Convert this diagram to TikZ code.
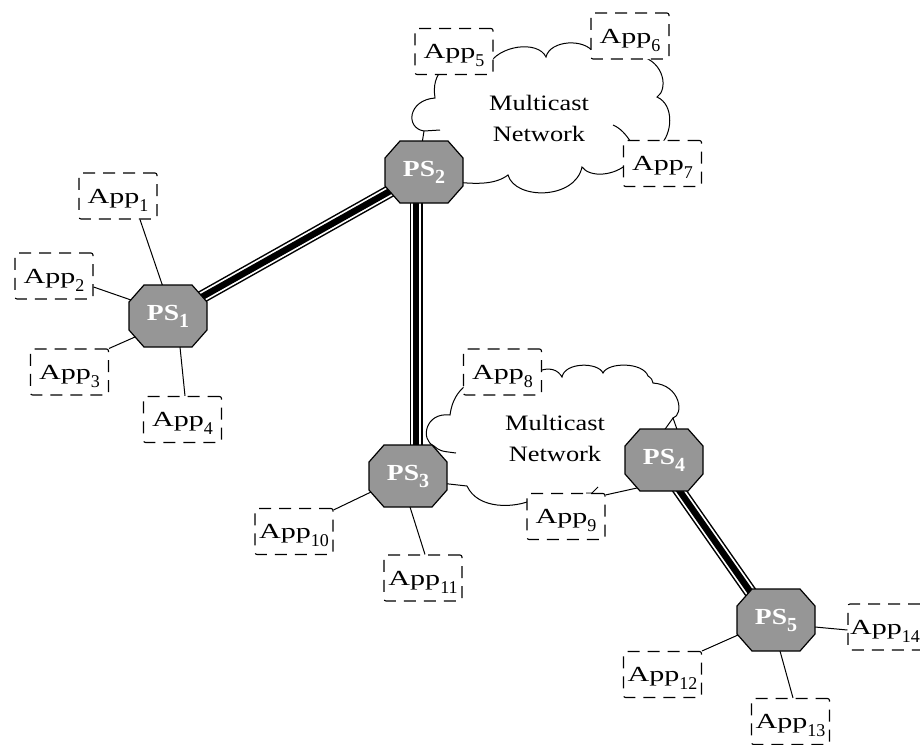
\documentclass[tikz,border=0pt]{standalone}
\usepackage{fontspec}
\setmainfont{Liberation Serif}
\newfontfamily\appfont[FakeStretch=1.4]{Liberation Serif}
\newfontfamily\cloudfont[FakeStretch=1.2]{Liberation Serif}
\newfontfamily\psfont[FakeStretch=1.2]{Liberation Serif}
\pgfdeclarelayer{bg}
\pgfsetlayers{bg,main}
\definecolor{psgray}{RGB}{150,150,150}
\newcommand\appsub[1]{\raisebox{-8pt}{\rmfamily\fontsize{18}{18}\selectfont #1}}
\newcommand\pssub[1]{\raisebox{-7pt}{\rmfamily\bfseries\fontsize{20}{20}\selectfont #1}}
\newcommand\octpt[2]{([xshift=#1pt,yshift=#2pt]path picture bounding box.center)}
\tikzset{
  appbox/.style={draw, line width=1.1pt, dash pattern=on 12pt off 8pt, rounded corners=2pt,
    fill=white, minimum width=78pt, minimum height=46pt, inner sep=0pt,
    text height=14pt, text depth=0pt, font=\appfont\fontsize{21.5}{21.5}\selectfont},
  psnode/.style={rectangle, minimum width=80pt, minimum height=64pt, inner sep=0pt,
    text=white, text height=15pt, text depth=7pt,
    font=\psfont\bfseries\fontsize{23}{23}\selectfont,
    path picture={\draw[line width=1.2pt, fill=psgray]
      \octpt{-24}{31} -- \octpt{24}{31} -- \octpt{39}{14} -- \octpt{39}{-14} -- \octpt{24}{-31}
      -- \octpt{-24}{-31} -- \octpt{-39}{-14} -- \octpt{-39}{14} -- cycle;}},
  link/.style={draw=black, line width=13pt, postaction={draw=white, line width=10pt},
    postaction={draw=black, line width=6.5pt}},
  conn/.style={draw, line width=1pt, shorten >=-3pt},
  cloudline/.style={draw, line width=1pt},
  cloudtext/.style={align=center, font=\cloudfont\fontsize{22}{31}\selectfont}
}
\begin{document}
\begin{tikzpicture}[x=1pt,y=1pt]
\useasboundingbox (0,0) rectangle (920,-744);

% PS nodes
\node[psnode] (PS1) at (168,-316) {PS\pssub{1}};
\node[psnode] (PS2) at (424,-172) {PS\pssub{2}};
\node[psnode] (PS3) at (408,-476) {PS\pssub{3}};
\node[psnode] (PS4) at (664,-460) {PS\pssub{4}};
\node[psnode] (PS5) at (776,-620) {PS\pssub{5}};

% App boxes
\node[appbox] (App1) at (118,-196) {App\appsub{1}};
\node[appbox] (App2) at (54,-276) {App\appsub{2}};
\node[appbox] (App3) at (69.5,-372) {App\appsub{3}};
\node[appbox] (App4) at (182.5,-419.5) {App\appsub{4}};
\node[appbox] (App5) at (454,-51.5) {App\appsub{5}};
\node[appbox] (App6) at (630,-36) {App\appsub{6}};
\node[appbox] (App7) at (662.5,-163.5) {App\appsub{7}};
\node[appbox] (App8) at (502.5,-372) {App\appsub{8}};
\node[appbox] (App9) at (566,-516.5) {App\appsub{9}};
\node[appbox] (App10) at (294,-531.5) {App\appsub{10}};
\node[appbox] (App11) at (423,-578) {App\appsub{11}};
\node[appbox] (App12) at (662.5,-674.5) {App\appsub{12}};
\node[appbox] (App13) at (790.5,-721.5) {App\appsub{13}};
\node[appbox, minimum width=74pt] (App14) at (885,-627) {App\appsub{14}};

% cloud texts
\node[cloudtext] (N1) at (539,-118) {Multicast\\Network};
\node[cloudtext] (N2) at (555,-438) {Multicast\\Network};

\begin{pgfonlayer}{bg}
\fill[white] (0,0) rectangle (920,-744);
% cloud 1
\draw[cloudline] (488,-66) .. controls (498,-45) and (538,-40) .. (546,-57)
  .. controls (550,-40) and (585,-38) .. (594,-53);
\draw[cloudline] (640,-56) .. controls (665,-62) and (668,-90) .. (657,-97)
  .. controls (675,-105) and (672,-135) .. (660,-145);
\draw[cloudline] (613,-125) .. controls (620,-128) and (626,-134) .. (632,-144);
\draw[cloudline] (628,-163) .. controls (615,-176) and (590,-178) .. (582,-167)
  .. controls (575,-200) and (515,-200) .. (508,-175)
  .. controls (495,-185) and (475,-184) .. (455,-182);
\draw[cloudline] (442,-70) .. controls (436,-76) and (433,-85) .. (435,-98)
  .. controls (408,-100) and (405,-128) .. (424,-131) -- (440,-130);
\draw[cloudline] (424,-131) -- (421,-150);
% cloud 2
\draw[cloudline] (536,-372) .. controls (550,-366) and (558,-370) .. (562,-377)
  .. controls (565,-362) and (598,-362) .. (603,-373)
  .. controls (608,-362) and (643,-362) .. (648,-376)
  .. controls (651,-378) and (653,-380) .. (653,-383)
  .. controls (681,-385) and (684,-415) .. (673,-418) -- (679,-435);
\draw[cloudline] (673,-418) -- (663,-432);
\draw[cloudline] (586,-493) -- (592,-493) -- (598,-487);
\draw[cloudline] (532,-500) .. controls (515,-508) and (478,-510) .. (467,-486) -- (440,-483);
\draw[cloudline] (465,-386) .. controls (458,-392) and (452,-400) .. (450,-415)
  .. controls (425,-412) and (420,-440) .. (434,-446) .. controls (440,-451) .. (456,-453);
\draw[cloudline] (434,-446) -- (428,-455);

% backbone links
\draw[link] (PS1.center) -- (PS2.center);
\draw[link] ([xshift=-8pt]PS2.center) -- ([xshift=8pt]PS3.center);
\draw[link] ([xshift=-6pt]PS4.center) -- ([xshift=-6pt]PS5.center);

% app connectors
\draw[conn] ([xshift=22pt]App1.south) -- ([shift={(-5,29)}]PS1.center);
\draw[conn] ([yshift=-11pt]App2.east) -- ([shift={(-37,16)}]PS1.center);
\draw[conn] (App3.north east) -- ([shift={(-33,-21)}]PS1.center);
\draw[conn] ([xshift=2.5pt]App4.north) -- ([shift={(12,-31)}]PS1.center);
\draw[conn] ([yshift=-2pt]App10.north east) -- ([shift={(-37,-16)}]PS3.center);
\draw[conn] ([xshift=2pt]App11.north) -- ([shift={(2,-31)}]PS3.center);
\draw[conn] ([yshift=-2pt]App9.north east) -- ([shift={(-27,-28)}]PS4.center);
\draw[conn] (App12.north east) -- ([shift={(-38,-15)}]PS5.center);
\draw[conn] ([xshift=2.5pt]App13.north) -- ([shift={(4,-31)}]PS5.center);
\draw[conn] ([yshift=-3pt]App14.west) -- ([shift={(39,-7)}]PS5.center);
\end{pgfonlayer}
\end{tikzpicture}
\end{document}
